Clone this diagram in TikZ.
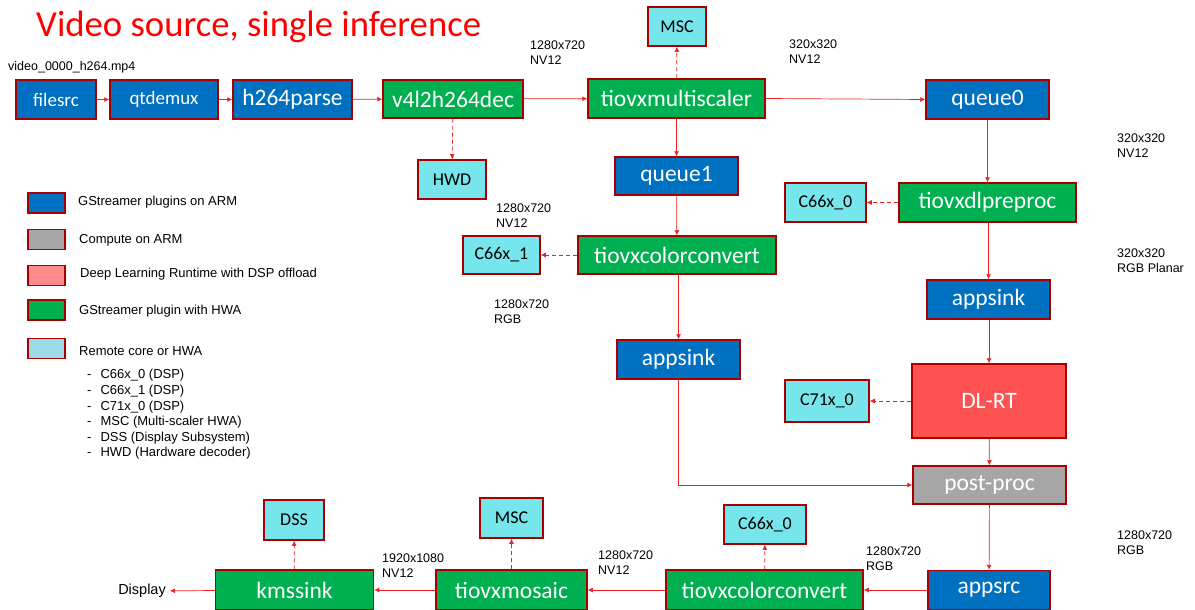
\documentclass[tikz,border=0pt]{standalone}
\usepackage{fontspec}
\setmainfont{Liberation Sans}
\newfontfamily\carlito{Carlito}
\usetikzlibrary{arrows.meta}
\definecolor{bordr}{HTML}{A80000}
\definecolor{armblue}{HTML}{0070C0}
\definecolor{hwagreen}{HTML}{00B050}
\definecolor{cpugray}{HTML}{A6A6A6}
\definecolor{dlred}{HTML}{FF5252}
\definecolor{remcyan}{HTML}{76E5EC}
\definecolor{legpink}{HTML}{FF8C8C}
\definecolor{legcyan}{HTML}{9ADBE6}
\definecolor{flowred}{HTML}{F02020}
\tikzset{
  blk/.style={draw=bordr, line width=1.5pt, inner sep=0pt, text=white,
    font=\carlito\fontsize{23.5}{23.5}\selectfont},
  smallblk/.style={font=\carlito\fontsize{19}{19}\selectfont},
  arm/.style={blk, fill=armblue},
  hwa/.style={blk, fill=hwagreen},
  cpu/.style={blk, fill=cpugray},
  dlrt/.style={blk, fill=dlred},
  rem/.style={blk, fill=remcyan, text=black, font=\carlito\fontsize{18}{18}\selectfont},
  legbox/.style={draw=bordr, line width=1.5pt, minimum width=37pt, minimum height=20pt, inner sep=0pt},
  legtxt/.style={anchor=west, inner sep=0pt, font=\fontsize{13}{13}\selectfont},
  dim/.style={anchor=north west, align=left, inner sep=0pt, font=\fontsize{12.5}{15}\selectfont},
  flow/.style={draw=flowred, line width=0.7pt, -{Latex[length=5pt,width=5pt]}},
  offl/.style={flow, dashed, dash pattern=on 4pt off 3pt}
}
\begin{document}
\begin{tikzpicture}[x=1pt,y=-1pt]
\useasboundingbox (0,0) rectangle (1195,610);

\node[anchor=west, inner sep=0pt, text=red, font=\carlito\fontsize{36.7}{36.7}\selectfont] (title) at (36,27) {Video source, single inference};
\node[anchor=west, inner sep=0pt, font=\fontsize{12.5}{12.5}\selectfont] (file) at (8,67) {video\_0000\_h264.mp4};

\node[arm, smallblk, minimum width=80pt, minimum height=39pt] (filesrc) at (56,99.5) {filesrc};
\node[arm, smallblk, minimum width=108pt, minimum height=39pt] (qtdemux) at (164,99.5) {qtdemux};
\node[arm, minimum width=119pt, minimum height=39pt] (h264parse) at (292.5,99.5) {h264parse};
\node[hwa, minimum width=140pt, minimum height=38pt] (dec) at (453,99) {v4l2h264dec};
\node[hwa, minimum width=177pt, minimum height=39pt] (msc) at (676.5,98.5) {tiovxmultiscaler};
\node[rem, minimum width=58pt, minimum height=39pt] (mscA) at (677,26.5) {MSC};
\node[arm, minimum width=123pt, minimum height=39pt] (queue0) at (987.5,99.5) {queue0};
\node[rem, minimum width=68pt, minimum height=39pt] (hwd) at (452,179.5) {HWD};
\node[arm, minimum width=123pt, minimum height=38pt] (queue1) at (676.5,176) {queue1};

\node[hwa, minimum width=177pt, minimum height=39pt] (pre) at (987.5,202.5) {tiovxdlpreproc};
\node[rem, minimum width=81pt, minimum height=39pt] (c66a) at (825.5,202.5) {C66x\_0};
\node[hwa, minimum width=198pt, minimum height=38pt] (cc) at (677,255) {tiovxcolorconvert};
\node[rem, minimum width=77pt, minimum height=38pt] (c66b) at (501.5,255) {C66x\_1};
\node[arm, minimum width=123pt, minimum height=39pt] (sinkA) at (678.5,359.5) {appsink};
\node[arm, minimum width=123pt, minimum height=39pt] (sinkB) at (988.5,299.5) {appsink};
\node[dlrt, minimum width=154pt, minimum height=74pt] (dl) at (989,401) {DL-RT};
\node[rem, minimum width=84pt, minimum height=42pt] (c71) at (827,401) {C71x\_0};
\node[cpu, minimum width=153pt, minimum height=38pt] (post) at (989.5,485) {post-proc};

\node[arm, minimum width=122pt, minimum height=39pt] (appsrc) at (989,590) {appsrc};
\node[hwa, minimum width=197pt, minimum height=40pt] (cc2) at (764.5,590) {tiovxcolorconvert};
\node[rem, minimum width=82pt, minimum height=39pt] (c66c) at (765,524.5) {C66x\_0};
\node[hwa, minimum width=151pt, minimum height=40pt] (mosaic) at (511.5,590) {tiovxmosaic};
\node[rem, minimum width=63pt, minimum height=40pt] (mscB) at (511.5,518) {MSC};
\node[hwa, minimum width=158pt, minimum height=40pt] (kms) at (294.5,590) {kmssink};
\node[rem, minimum width=60pt, minimum height=40pt] (dss) at (294,520) {DSS};
\node[anchor=east, inner xsep=4pt, inner ysep=0pt, font=\fontsize{14.5}{14.5}\selectfont] (disp) at (170,591) {Display};

\node[dim] (d1) at (530,41) {1280x720\\NV12};
\node[dim] (d2) at (789,40) {320x320\\NV12};
\node[dim] (d3) at (1117,134) {320x320\\NV12};
\node[dim] (d4) at (496,204) {1280x720\\NV12};
\node[dim] (d5) at (1117,249) {320x320\\RGB Planar};
\node[dim] (d6) at (494,300) {1280x720\\RGB};
\node[dim] (d7) at (1117,531) {1280x720\\RGB};
\node[dim] (d8) at (866,547) {1280x720\\RGB};
\node[dim] (d9) at (598,551) {1280x720\\NV12};
\node[dim] (d10) at (382,554) {1920x1080\\NV12};

\draw[flow] (filesrc) -- (qtdemux);
\draw[flow] (qtdemux) -- (h264parse);
\draw[flow] (h264parse) -- (dec);
\draw[flow] (dec) -- (msc);
\draw[flow] (msc.east) -- (queue0.west);
\draw[offl] (msc) -- (mscA);
\draw[offl] (dec) -- (hwd);
\draw[flow] (msc) -- (queue1);
\draw[flow] (queue1) -- (cc);
\draw[offl] (cc) -- (c66b);
\draw[flow] (cc.south -| sinkA.north) -- (sinkA.north);
\draw[flow] (sinkA.south) |- (post.west);
\draw[flow] (queue0) -- (pre);
\draw[offl] (pre) -- (c66a);
\draw[flow] (pre.south -| sinkB.north) -- (sinkB.north);
\draw[flow] (sinkB.south -| dl.north) -- (dl.north);
\draw[offl] (dl) -- (c71);
\draw[flow] (dl) -- (post);
\draw[flow] (post) -- (appsrc);
\draw[flow] (appsrc) -- (cc2);
\draw[offl] (cc2) -- (c66c);
\draw[flow] (cc2) -- (mosaic);
\draw[offl] (mosaic) -- (mscB);
\draw[flow] (mosaic) -- (kms);
\draw[offl] (kms) -- (dss);
\draw[flow] (kms) -- (disp);

\node[legbox, fill=armblue] (lg1) at (46.5,203) {};
\node[legbox, fill=cpugray] (lg2) at (46.5,239.5) {};
\node[legbox, fill=legpink] (lg3) at (46.5,275.5) {};
\node[legbox, fill=hwagreen] (lg4) at (46.5,310) {};
\node[legbox, fill=legcyan] (lg5) at (46.5,348.5) {};
\node[legtxt] (lt1) at (78,202) {GStreamer plugins on ARM};
\node[legtxt] (lt2) at (79,240) {Compute on ARM};
\node[legtxt] (lt3) at (80,274) {Deep Learning Runtime with DSP offload};
\node[legtxt] (lt4) at (79,311) {GStreamer plugin with HWA};
\node[legtxt] (lt5) at (79,351) {Remote core or HWA};
\foreach \yy/\txt in {375/C66x\_0 (DSP), 391/C66x\_1 (DSP), 407/C71x\_0 (DSP),
  422/MSC (Multi-scaler HWA), 438/DSS (Display Subsystem), 453/HWD (Hardware decoder)}
  \node[legtxt] at (87,\yy) {-\hspace{9pt}\txt};
\end{tikzpicture}
\end{document}
